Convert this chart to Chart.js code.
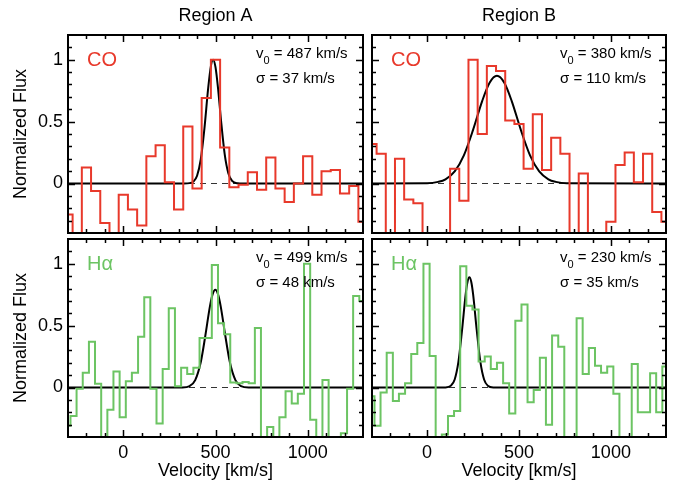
<!DOCTYPE html>
<html>
<head>
<meta charset="utf-8">
<script src="https://cdn.jsdelivr.net/npm/chart.js@4.4.1/dist/chart.umd.min.js"></script>
<style>
  html, body { margin: 0; padding: 0; background: #fff; }
  #wrap { position: relative; width: 680px; height: 485px; }
  #wrap canvas { position: absolute; left: 0; top: 0; }
</style>
</head>
<body>
<div id="wrap">
  <canvas id="coA" width="680" height="485"></canvas>
  <canvas id="coB" width="680" height="485"></canvas>
  <canvas id="haA" width="680" height="485"></canvas>
  <canvas id="haB" width="680" height="485"></canvas>
</div>
<script>
// CO channels (50 km/s bins), bin centres in km/s
const coVel = [-300, -250, -200, -150, -100, -50, 0, 50, 100, 150, 200, 250, 300, 350, 400, 450,
  500, 550, 600, 650, 700, 750, 800, 850, 900, 950, 1000, 1050, 1100, 1150, 1200, 1250, 1300];
const coFluxA = [-0.25, -0.45, 0.13, -0.06, -0.32, -0.5, -0.09, -0.21, -0.34, 0.22, 0.31, 0.01, -0.21,
  0.46, -0.04, 0.69, 1.0, 0.29, -0.03, -0.01, 0.09, -0.05, 0.21, -0.04, -0.15, 0.0, 0.22, -0.09, 0.1,
  0.11, -0.08, -0.02, -0.31];
const coFluxB = [0.32, 0.24, -0.5, 0.2, -0.13, -0.16, -0.5, -0.5, -0.5, 0.12, -0.14, 1.0, 0.4, 0.95,
  0.91, 0.51, 0.48, 0.12, 0.56, 0.11, 0.37, 0.24, -0.5, 0.08, -0.5, -0.5, -0.31, 0.15, 0.25, 0.01,
  0.24, -0.23, -0.31];

// H-alpha channels (~33 km/s bins)
const haVel = [-303, -270, -237, -203, -170, -137, -103, -70, -37, -3, 30, 63, 97, 130, 163, 197,
  230, 263, 297, 330, 363, 397, 430, 463, 497, 530, 563, 597, 630, 663, 697, 730, 763, 797, 830,
  863, 897, 930, 963, 997, 1030, 1063, 1097, 1130, 1163, 1197, 1230, 1263, 1297];
const haFluxA = [-0.31, -0.23, -0.01, 0.12, 0.37, 0.03, -0.5, -0.18, 0.13, -0.24, 0.05, 0.12, 0.41,
  0.73, -0.01, -0.29, 0.15, 0.64, 0.01, 0.16, 0.11, 0.16, 0.4, 0.4, 0.99, 0.52, 0.43, 0.04, 0.035,
  0.045, 0.035, 0.48, -0.5, -0.32, -0.5, -0.24, -0.03, -0.13, -0.05, 1.0, -0.26, -0.5, 0.06, -0.5,
  -0.5, -0.37, -0.01, 0.74, 0.7];
const haFluxB = [-0.07, -0.31, -0.04, 0.28, -0.11, -0.05, 0.035, 0.27, 0.36, 1.0, 0.255, -0.5, -0.38,
  -0.23, -0.19, 0.98, 0.66, 0.63, 0.21, 0.25, 0.15, 0.2, 0.035, -0.21, 0.54, 0.67, -0.12, -0.02,
  0.24, -0.3, 0.42, 0.33, -0.5, -0.5, 0.56, 0.11, 0.32, 0.175, 0.12, 0.17, -0.05, -0.5, -0.5, 0.19,
  -0.2, -0.2, 0.115, -0.2, 0.17];

// gaussian fit curves, sampled off the figure
const fitVelCOA = [-300, 330, 360, 380, 400, 420, 440, 460, 475, 487, 500, 515, 530, 550, 570, 590, 620, 650, 1300];
const fitCOA = [0, 0, 0.003, 0.015, 0.063, 0.194, 0.446, 0.766, 0.949, 1.0, 0.94, 0.751, 0.509, 0.235, 0.081, 0.021, 0.002, 0, 0];
const fitVelCOB = [-300, 0, 60, 100, 150, 200, 250, 300, 340, 380, 420, 460, 510, 560, 610, 660, 700, 760, 1300];
const fitCOB = [0, 0.002, 0.013, 0.034, 0.098, 0.228, 0.433, 0.668, 0.814, 0.87, 0.814, 0.668, 0.433, 0.228, 0.098, 0.034, 0.013, 0.002, 0];
const fitVelHaA = [-300, 320, 360, 390, 420, 445, 470, 485, 499, 513, 528, 553, 578, 608, 638, 680, 1300];
const fitHaA = [0, 0.001, 0.012, 0.06, 0.204, 0.42, 0.658, 0.757, 0.79, 0.757, 0.658, 0.42, 0.204, 0.06, 0.012, 0.001, 0];
const fitVelHaB = [-300, 100, 130, 150, 170, 190, 210, 220, 230, 240, 250, 270, 290, 310, 330, 360, 1300];
const fitHaB = [0, 0.001, 0.015, 0.065, 0.205, 0.463, 0.756, 0.854, 0.89, 0.854, 0.756, 0.463, 0.205, 0.065, 0.015, 0.001, 0];

const fitV0 = [487, 380, 499, 230];
const fitSigma = [37, 110, 48, 35];
const regionNames = ['Region A', 'Region B'];
const lineNames = ['CO', 'H\u03b1'];

const xTicks = [0, 500, 1000];
const yTicks = [0, 0.5, 1];

const RED = '#e8392b';
const GREEN = '#6cc463';
const FONT = '"Liberation Sans", Arial, Helvetica, sans-serif';

Chart.defaults.font.family = FONT;
Chart.defaults.color = '#000';

const pts = (xs, ys) => xs.map((x, i) => ({ x: x, y: ys[i] }));

// frame, inward ticks, dashed zero line and the in-panel labels
const panelDeco = {
  id: 'panelDeco',
  beforeDatasetsDraw(chart, args, o) {
    const { ctx, chartArea: a, scales: { y } } = chart;
    const y0 = y.getPixelForValue(0);
    ctx.save();
    ctx.strokeStyle = '#333';
    ctx.lineWidth = 1;
    ctx.setLineDash([6, 5]);
    ctx.beginPath();
    ctx.moveTo(a.left, y0);
    ctx.lineTo(a.right, y0);
    ctx.stroke();
    ctx.restore();
  },
  afterDatasetsDraw(chart, args, o) {
    const { ctx, chartArea: a, scales: { x, y } } = chart;
    ctx.save();
    ctx.strokeStyle = '#000';
    ctx.lineWidth = 1.5;
    ctx.beginPath();
    for (let v = -200; v <= 1200; v += 100) {
      const px = Math.round(x.getPixelForValue(v)) + 0.5;
      const len = v % 500 === 0 ? 7 : 4;
      ctx.moveTo(px, a.bottom); ctx.lineTo(px, a.bottom - len);
      ctx.moveTo(px, a.top); ctx.lineTo(px, a.top + len);
    }
    for (let i = -3; i <= 11; i++) {
      const py = Math.round(y.getPixelForValue(i / 10)) + 0.5;
      const len = i % 5 === 0 ? 7 : 4;
      ctx.moveTo(a.left, py); ctx.lineTo(a.left + len, py);
      ctx.moveTo(a.right, py); ctx.lineTo(a.right - len, py);
    }
    ctx.stroke();
    ctx.lineWidth = 2;
    ctx.strokeRect(a.left, a.top, a.right - a.left, a.bottom - a.top);

    ctx.textBaseline = 'middle';
    ctx.fillStyle = o.color;
    ctx.font = '20px ' + FONT;
    ctx.fillText(o.name, a.left + 19, a.top + 25);

    ctx.fillStyle = '#000';
    let tx = a.left + 188;
    const ty = a.top + 19;
    ctx.font = '15px ' + FONT;
    ctx.fillText('v', tx, ty);
    tx += ctx.measureText('v').width;
    ctx.font = '11px ' + FONT;
    ctx.fillText('0', tx, ty + 7);
    tx += ctx.measureText('0').width;
    ctx.font = '15px ' + FONT;
    ctx.fillText(' = ' + o.v0 + ' km/s', tx, ty);
    ctx.fillText('\u03c3 = ' + o.sigma + ' km/s', a.left + 188, a.top + 44);
    ctx.restore();
  }
};

function makePanel(id, col, row, hist, fit, color, name, v0, sigma) {
  const left = col === 0;
  const top = row === 0;
  new Chart(document.getElementById(id), {
    type: 'line',
    data: {
      datasets: [
        { data: hist, borderColor: color, borderWidth: 2, stepped: 'middle', pointRadius: 0 },
        { data: fit, borderColor: '#000', borderWidth: 2, cubicInterpolationMode: 'monotone', pointRadius: 0 }
      ]
    },
    options: {
      responsive: false,
      animation: false,
      events: [],
      layout: {
        padding: {
          left: left ? 0 : 372,
          right: left ? 317 : 14,
          top: top ? 0 : 239,
          bottom: top ? 252 : 0
        }
      },
      plugins: {
        legend: { display: false },
        tooltip: { enabled: false },
        title: {
          display: top,
          text: regionNames[col],
          fullSize: false,
          color: '#000',
          font: { size: 18, weight: 'normal' },
          padding: { top: 5, bottom: 8.4 }
        },
        panelDeco: { color: color, name: name, v0: v0, sigma: sigma }
      },
      scales: {
        x: {
          type: 'linear',
          min: -300,
          max: 1300,
          display: !top,
          afterFit: (s) => { s.height = top ? 0 : 48; },
          afterBuildTicks: (s) => { s.ticks = xTicks.map(v => ({ value: v })); },
          grid: { display: false, drawTicks: false },
          border: { display: false },
          ticks: { font: { size: 18 }, color: '#000', padding: 5, maxRotation: 0, callback: (v) => String(v) },
          title: { display: true, text: 'Velocity [km/s]', font: { size: 18 }, color: '#000', padding: { top: 0, bottom: 3 } }
        },
        y: {
          type: 'linear',
          min: -0.4,
          max: 1.2,
          display: left,
          afterFit: (s) => { s.width = left ? 68 : 0; },
          afterBuildTicks: (s) => { s.ticks = yTicks.map(v => ({ value: v })); },
          grid: { display: false, drawTicks: false },
          border: { display: false },
          ticks: { font: { size: 18 }, color: '#000', padding: 5, callback: (v) => String(v) },
          title: { display: true, text: 'Normalized Flux', font: { size: 18 }, color: '#000', padding: { top: 10, bottom: 0 } }
        }
      }
    },
    plugins: [panelDeco]
  });
}

makePanel('coA', 0, 0, pts(coVel, coFluxA), pts(fitVelCOA, fitCOA), RED, lineNames[0], fitV0[0], fitSigma[0]);
makePanel('coB', 1, 0, pts(coVel, coFluxB), pts(fitVelCOB, fitCOB), RED, lineNames[0], fitV0[1], fitSigma[1]);
makePanel('haA', 0, 1, pts(haVel, haFluxA), pts(fitVelHaA, fitHaA), GREEN, lineNames[1], fitV0[2], fitSigma[2]);
makePanel('haB', 1, 1, pts(haVel, haFluxB), pts(fitVelHaB, fitHaB), GREEN, lineNames[1], fitV0[3], fitSigma[3]);
</script>
</body>
</html>
